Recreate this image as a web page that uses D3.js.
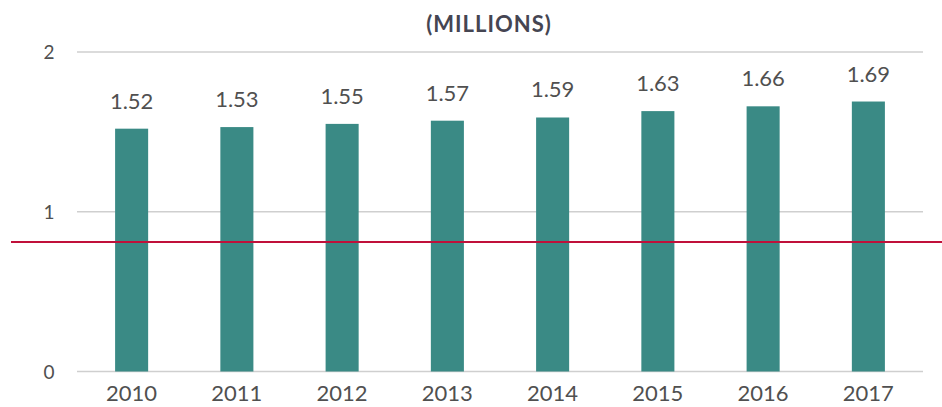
<!DOCTYPE html>
<html>
<head>
<script src="https://d3js.org/d3.v7.min.js"></script>
<style>
  body { margin: 0; background: #fff; }
  text { font-family: Lato, "DejaVu Sans", sans-serif; fill: #505050; }
</style>
</head>
<body>
<svg width="942" height="407"></svg>
<script>
const years = ["2010", "2011", "2012", "2013", "2014", "2015", "2016", "2017"];
const values = [1.52, 1.53, 1.55, 1.57, 1.59, 1.63, 1.66, 1.69];
const yTicks = [0, 1, 2];
const title = "(MILLIONS)";
const refValue = 0.81; // red marker line

const svg = d3.select("svg");
const plotLeft = 79, plotRight = 921, plotTop = 52, plotBottom = 371.5;

const x = d3.scaleBand().domain(years).range([plotLeft, plotRight]).paddingInner(0.686).paddingOuter(0.343);
const y = d3.scaleLinear().domain([0, 2]).range([plotBottom, plotTop]);

// gridlines
svg.append("g").selectAll("line").data(yTicks).join("line")
  .attr("x1", 77).attr("x2", 923)
  .attr("y1", d => y(d)).attr("y2", d => y(d))
  .attr("stroke", "#cfcfcf").attr("stroke-width", 1.3);

// y labels
svg.append("g").selectAll("text").data(yTicks).join("text")
  .attr("x", 49).attr("y", d => y(d) + 7)
  .attr("text-anchor", "middle")
  .style("font-size", "19px")
  .text(d => d);

// bars
svg.append("g").selectAll("rect").data(values).join("rect")
  .attr("x", (d, i) => x(years[i]))
  .attr("width", x.bandwidth())
  .attr("y", d => y(d))
  .attr("height", d => y(0) - y(d))
  .attr("fill", "#3a8a85");

// value labels
svg.append("g").selectAll("text").data(values).join("text")
  .attr("x", (d, i) => x(years[i]) + x.bandwidth() / 2)
  .attr("y", d => y(d) - 20)
  .attr("text-anchor", "middle")
  .style("font-size", "22px")
  .text(d => d.toFixed(2));

// year labels
svg.append("g").selectAll("text").data(years).join("text")
  .attr("x", d => x(d) + x.bandwidth() / 2)
  .attr("y", 401)
  .attr("text-anchor", "middle")
  .style("font-size", "22px")
  .text(d => d);

// title
svg.append("text")
  .attr("x", 489).attr("y", 32)
  .attr("text-anchor", "middle")
  .style("font-size", "22px").style("font-weight", "bold")
  .style("letter-spacing", "1px")
  .style("fill", "#454552")
  .text(title);

// red line
const yRed = y(refValue);
svg.append("line")
  .attr("x1", 11).attr("x2", 942)
  .attr("y1", yRed).attr("y2", yRed)
  .attr("stroke", "#c0103a").attr("stroke-width", 2);
</script>
</body>
</html>
